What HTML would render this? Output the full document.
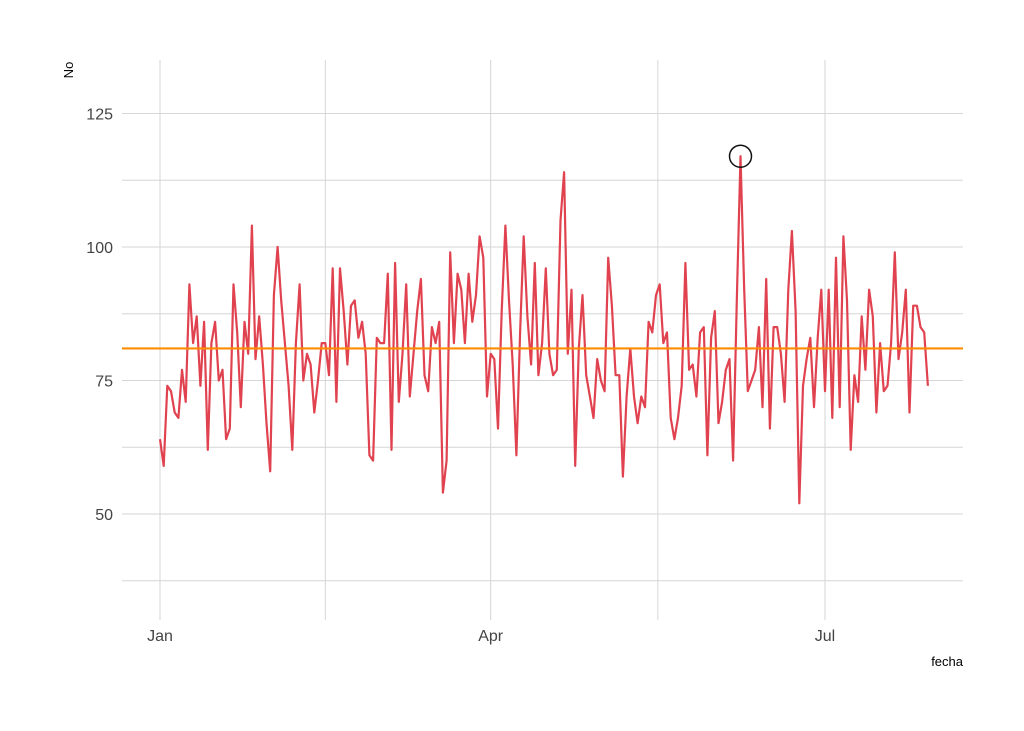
<!DOCTYPE html>
<html><head><meta charset="utf-8"><style>
body{margin:0;background:#fff;}
svg{display:block;font-family:"Liberation Sans",sans-serif;}
</style></head><body>
<svg id="chart" width="1024" height="731" viewBox="0 0 1024 731" xmlns="http://www.w3.org/2000/svg">
<g id="grid"></g>
<g id="axes"></g>
<g id="series"></g>
<text transform="translate(73,70) rotate(-90)" text-anchor="middle" font-size="13" fill="#000">No</text>
<text x="963" y="666" text-anchor="end" font-size="13" fill="#000">fecha</text>
</svg>
<script>
const values = [64,59,74,73,69,68,77,71,93,82,87,74,86,62,82,86,75,77,64,66,93,84,70,86,80,104,79,87,78,67,58,91,100,90,82,74,62,82,93,75,80,78,69,75,82,82,76,96,71,96,88,78,89,90,83,86,80,61,60,83,82,82,95,62,97,71,80,93,72,80,88,94,76,73,85,82,86,54,60,99,82,95,92,82,95,86,91,102,98,72,80,79,66,88,104,90,78,61,84,102,87,78,97,76,82,96,80,76,77,105,114,80,92,59,81,91,76,72,68,79,75,73,98,89,76,76,57,72,81,72,67,72,70,86,84,91,93,82,84,68,64,68,74,97,77,78,72,84,85,61,83,88,67,71,77,79,60,90,117,92,73,75,77,85,70,94,66,85,85,80,71,92,103,88,52,74,79,83,70,83,92,73,92,68,98,70,102,90,62,76,71,87,77,92,87,69,82,73,74,82,99,79,84,92,69,89,89,85,84,74];
const meanValue = 81;
const yTicks = [50,75,100,125];
const yMinor = [37.5,62.5,87.5,112.5];
const xTickDays = [0,90,181];
const xTickLabels = ["Jan","Apr","Jul"];
const xMinorDays = [45,135.5];

const NS="http://www.w3.org/2000/svg";
const L=122,R=963,T=60,B=620;
function xs(d){return 160+d*(825-160)/181;}
function ys(v){return 247+(100-v)*(514-247)/50;}
function mk(tag,attrs,parent){const e=document.createElementNS(NS,tag);for(const k in attrs)e.setAttribute(k,attrs[k]);parent.appendChild(e);return e;}
const grid=document.getElementById('grid'),axes=document.getElementById('axes'),series=document.getElementById('series');
yMinor.concat(yTicks).forEach(v=>{const l=mk('line',{x1:L,x2:R,y1:ys(v),y2:ys(v),stroke:'#d6d6d6','stroke-width':1},grid);

});
xMinorDays.concat(xTickDays).forEach(d=>{const l=mk('line',{x1:xs(d),x2:xs(d),y1:T,y2:B,stroke:'#d6d6d6','stroke-width':1},grid);

});
yTicks.forEach(v=>{const t=mk('text',{x:113,y:ys(v)+6,'text-anchor':'end','font-size':16,fill:'#444'},axes);t.textContent=v;

});
xTickDays.forEach((d,i)=>{const t=mk('text',{x:xs(d),y:641,'text-anchor':'middle','font-size':16,fill:'#444'},axes);t.textContent=xTickLabels[i];

});
const pts=values.map((v,i)=>xs(i).toFixed(1)+','+ys(v).toFixed(1)).join(' ');
const line=mk('polyline',{points:pts,fill:'none',stroke:'#e0434f','stroke-width':2.2,'stroke-linejoin':'round'},series);


const mean=mk('line',{x1:L,x2:R,y1:ys(meanValue),y2:ys(meanValue),stroke:'#ff8c00','stroke-width':2.2},series);


let mi=0;values.forEach((v,i)=>{if(v>values[mi])mi=i;});
const c=mk('circle',{cx:xs(mi),cy:ys(values[mi]),r:11,fill:'none',stroke:'#111','stroke-width':1.5},series);


</script>
</body></html>
